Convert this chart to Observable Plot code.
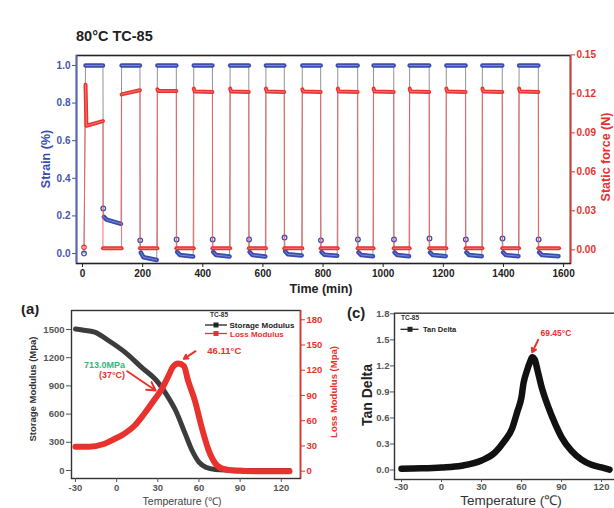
<!DOCTYPE html>
<html><head><meta charset="utf-8">
<script src="https://cdn.jsdelivr.net/npm/d3@7"></script>
<script src="https://cdn.jsdelivr.net/npm/@observablehq/plot@0.6"></script>
<style>
html,body{margin:0;padding:0;background:#fff;overflow:hidden}
#wrap{position:relative;width:614px;height:508px;overflow:hidden;font-family:"Liberation Sans",Arial,sans-serif}
#wrap > svg{position:absolute;margin:0;background:transparent;max-width:none}
</style></head><body><div id="wrap"></div>
<script>
// ---------- Top panel data (80°C TC-85) ----------
const timeTicks = [0, 200, 400, 600, 800, 1000, 1200, 1400, 1600];
const strainTicks = [0, 0.2, 0.4, 0.6, 0.8, 1.0];
const forceTicks = [0, 0.03, 0.06, 0.09, 0.12, 0.15];
const riseTimes = [10, 130, 249, 370, 491, 610, 731, 849, 968, 1088, 1210, 1330, 1452];
const fallTimes = [68, 191, 312, 432, 553, 671, 792, 915, 1035, 1153, 1274, 1396, 1516];
const endTime = 1585;
const startTime = 5, startStrain = 0.0, startForce = 0.002;
const strainHold = [1.0, 1.0, 1.0, 1.0, 1.0, 1.0, 1.0, 1.0, 1.0, 1.0, 1.0, 1.0, 1.0];
const strainSpike = [0.24, 0.07, 0.075, 0.075, 0.075, 0.085, 0.07, 0.075, 0.075, 0.08, 0.075, 0.08, 0.075];
const strainRecStart = [0.195, 0.005, 0.008, 0.008, 0.008, 0.012, 0.008, 0.006, 0.006, 0.006, 0.006, 0.006, 0.006];
const strainRecKnee = [0.18, -0.02, -0.008, -0.008, -0.008, -0.004, -0.006, -0.008, -0.008, -0.008, -0.008, -0.008, -0.008];
const strainRecEnd = [0.158, -0.034, -0.016, -0.016, -0.016, -0.01, -0.012, -0.014, -0.014, -0.014, -0.014, -0.014, -0.014];
const forceHoldStart = [0.127, 0.1195, 0.1235, 0.124, 0.124, 0.124, 0.1235, 0.124, 0.124, 0.124, 0.124, 0.124, 0.124];
const forceHoldKnee = [0.0955, 0.1198, 0.1222, 0.1218, 0.1218, 0.1218, 0.1218, 0.1218, 0.1218, 0.1218, 0.1218, 0.1218, 0.1218];
const forceHoldEnd = [0.099, 0.1228, 0.1222, 0.1215, 0.1215, 0.1215, 0.1215, 0.1215, 0.1215, 0.1215, 0.1215, 0.1215, 0.1215];
const forceLow = 0.0012;

// ---------- (a) storage / loss modulus ----------
const tempTicks = [-30, 0, 30, 60, 90, 120];
const storageTicks = [0, 300, 600, 900, 1200, 1500];
const lossTicks = [0, 30, 60, 90, 120, 150, 180];
const tempS = [-30, -25, -16, -6, 6, 18, 30, 36, 43, 50, 55, 60, 65, 72, 80, 90, 100, 110, 120, 126];
const storage = [1505, 1495, 1472, 1383, 1259, 1099, 940, 816, 638, 390, 213, 89, 35, 10, 4, 2, 1, 1, 0, 0];
const tempL = [-30, -20, -10, -2, 5, 13, 20, 28, 33, 38, 41, 45, 49, 52, 57, 62, 67, 72, 77, 87, 100, 126];
const loss = [29, 29, 32, 38, 44, 54, 68, 86, 98, 114, 124, 128, 125, 108, 84, 52, 25, 9, 3, 0.5, 0, 0];
const annTextAEnd = [
  {x: 6.1, y: 1117, label: "713.0MPa", color: "#34b37c"},
  {x: 6.1, y: 1011, label: "(37°C)", color: "#e8322e"}
];
const annTextAStart = [{x: 66.1, y: 1277, label: "46.11°C", color: "#e8322e"}];
const annArrowA = [
  {x1: 7.7, y1: 1056, x2: 28.4, y2: 851},
  {x1: 57.5, y1: 1269, x2: 49, y2: 1188}
];

// ---------- (c) tan delta ----------
const tanTicks = [0, 0.3, 0.6, 0.9, 1.2, 1.5, 1.8];
const tempT = [-30, -15, 0, 15, 30, 40, 47, 53, 57, 60, 61.5, 64, 66.5, 68, 70, 72, 75, 80, 85, 90, 97.5, 105, 112.5, 120, 126];
const tanDelta = [0.015, 0.02, 0.03, 0.05, 0.11, 0.2, 0.33, 0.48, 0.68, 0.84, 1.0, 1.14, 1.25, 1.3, 1.27, 1.15, 0.96, 0.73, 0.54, 0.38, 0.22, 0.12, 0.06, 0.03, 0.005];
const annTextC = [{x: 74.25, y: 1.576, label: "69.45°C"}];
const annArrowC = [{x1: 72.5, y1: 1.5, x2: 68, y2: 1.357}];

// ---------- colours / helpers ----------
const blue = "#3a4cb0", red = "#e8322e", dark = "#3c3c3c";
const font = "'Liberation Sans', Arial, sans-serif";
const wrap = document.getElementById("wrap");
function place(svg, left, top) {
  svg.style.position = "absolute";
  svg.style.left = left + "px";
  svg.style.top = top + "px";
  svg.style.background = "transparent";
  svg.style.maxWidth = "none";
  wrap.appendChild(svg);
}
const baseStyle = {fontFamily: font, fontSize: "10px", fontWeight: "bold", background: "transparent"};

// ---------- build top series ----------
const sPts = [{t: startTime, v: startStrain, seg: "pre", band: false}];
const fPts = [{t: startTime, v: startForce, seg: "pre", band: false}];
riseTimes.forEach((r, i) => {
  const f = fallTimes[i];
  const nxt = i < riseTimes.length - 1 ? riseTimes[i + 1] : endTime;
  sPts.push(
    {t: r, v: strainHold[i], seg: "sh" + i, band: true},
    {t: f, v: strainHold[i], seg: "sh" + i, band: true},
    {t: f + 1, v: strainSpike[i], seg: "ss" + i, band: false},
    {t: f + 3, v: strainRecStart[i], seg: "sr" + i, band: true},
    {t: f + 12, v: strainRecKnee[i], seg: "sr" + i, band: true},
    {t: nxt - 2, v: strainRecEnd[i], seg: "sr" + i, band: true}
  );
  fPts.push(
    {t: r, v: forceHoldStart[i], seg: "fh" + i, band: true},
    {t: r + 3, v: forceHoldKnee[i], seg: "fh" + i, band: true},
    {t: f, v: forceHoldEnd[i], seg: "fh" + i, band: true},
    {t: f, v: forceLow, seg: "fl" + i, band: true},
    {t: nxt, v: forceLow, seg: "fl" + i, band: true}
  );
});
const xTop = {domain: [-20, 1623]};
const topDims = {width: 614, height: 300, marginLeft: 76, marginRight: 44, marginTop: 55, marginBottom: 37};

const strainPlot = Plot.plot({
  ...topDims, style: baseStyle,
  x: xTop, y: {domain: [-0.053, 1.053]},
  marks: [
    Plot.frame({stroke: "#222", strokeWidth: 1.6}),
    Plot.ruleX([xTop.domain[0]], {stroke: "#5566c4", strokeWidth: 1.6}),
    Plot.axisX(timeTicks, {anchor: "bottom", tickSize: 4, tickPadding: 2, label: null, tickFormat: d => String(d), color: "#222"}),
    Plot.axisY(strainTicks, {anchor: "left", tickSize: 4, tickPadding: 2, label: null, tickFormat: d3.format(".1f"), color: "#4656aa"}),
    Plot.line(sPts, {x: "t", y: "v", stroke: "#777", strokeWidth: 0.8}),
    Plot.line(sPts.filter(d => d.band), {x: "t", y: "v", z: "seg", stroke: blue, strokeWidth: 4.5}),
    Plot.line(sPts.filter(d => d.band), {x: "t", y: "v", z: "seg", stroke: "#9aa6e0", strokeWidth: 1, strokeOpacity: 0.7}),
    Plot.dot(sPts.filter(d => !d.band), {x: "t", y: "v", r: 2.3, stroke: blue, strokeWidth: 1.3})
  ]
});
place(strainPlot, 0, 0);

const forcePlot = Plot.plot({
  ...topDims, style: baseStyle,
  x: {...xTop, axis: null}, y: {domain: [-0.0105, 0.1495]},
  marks: [
    Plot.ruleX([xTop.domain[1]], {stroke: red, strokeWidth: 1.6}),
    Plot.axisY(forceTicks, {anchor: "right", tickSize: 4, tickPadding: 2, label: null, tickFormat: d3.format(".2f"), color: red}),
    Plot.line(fPts, {x: "t", y: "v", stroke: "#f06060", strokeWidth: 0.9}),
    Plot.line(fPts.filter(d => d.band), {x: "t", y: "v", z: "seg", stroke: red, strokeWidth: 4}),
    Plot.line(fPts.filter(d => d.band), {x: "t", y: "v", z: "seg", stroke: "#f7a8a8", strokeWidth: 0.9, strokeOpacity: 0.7}),
    Plot.dot(fPts.filter(d => !d.band), {x: "t", y: "v", r: 2.2, stroke: red, strokeWidth: 1.2})
  ]
});
place(forcePlot, 0, 0);

// ---------- (a) ----------
const xA = {domain: [-32.9, 134]};
const aDims = {width: 340, height: 218, marginLeft: 71, marginRight: 40, marginTop: 20, marginBottom: 30};
const storagePlot = Plot.plot({
  ...aDims, style: {...baseStyle, fontSize: "9.5px"},
  x: xA, y: {domain: [-85, 1702]},
  marks: [
    Plot.frame({stroke: "#333", strokeWidth: 1.4}),
    Plot.axisX(tempTicks, {anchor: "bottom", tickSize: 4, tickPadding: 2, label: null, tickFormat: d => String(d), color: "#555"}),
    Plot.axisY(storageTicks, {anchor: "left", tickSize: 5, tickPadding: 2, label: null, tickFormat: d => String(d), color: "#555"}),
    Plot.line(tempS.map((t, i) => ({t, v: storage[i]})), {x: "t", y: "v", stroke: dark, strokeWidth: 5, curve: "monotone-x"})
  ]
});
place(storagePlot, 0, 290);

const lossPlot = Plot.plot({
  ...aDims, style: {...baseStyle, fontSize: "9.5px"},
  x: {...xA, axis: null}, y: {domain: [-8.7, 191]},
  marks: [
    Plot.ruleX([xA.domain[1]], {stroke: red, strokeWidth: 1.6}),
    Plot.axisY(lossTicks, {anchor: "right", tickSize: 4, tickPadding: 2, label: null, tickFormat: d => String(d), color: red}),
    Plot.line(tempL.map((t, i) => ({t, v: loss[i]})), {x: "t", y: "v", stroke: red, strokeWidth: 6, curve: "monotone-x"})
  ]
});
place(lossPlot, 0, 290);

const annAPlot = Plot.plot({
  ...aDims, style: {...baseStyle, fontSize: "9px"},
  x: {...xA, axis: null}, y: {domain: [-85, 1702], axis: null},
  marks: [
    Plot.arrow(annArrowA, {x1: "x1", y1: "y1", x2: "x2", y2: "y2", stroke: red, strokeWidth: 2, headLength: 7}),
    Plot.text(annTextAEnd, {x: "x", y: "y", text: "label", fill: "color", textAnchor: "end", fontSize: 9, fontWeight: "bold"}),
    Plot.text(annTextAStart, {x: "x", y: "y", text: "label", fill: "color", textAnchor: "start", fontSize: 9.5, fontWeight: "bold"})
  ]
});
place(annAPlot, 0, 290);

// ---------- (c) ----------
const xC = {domain: [-35.25, 132.75]};
const tanPlot = Plot.plot({
  width: 284, height: 218, marginLeft: 54, marginRight: 6, marginTop: 22.7, marginBottom: 29,
  style: {...baseStyle, fontSize: "9.5px"},
  x: xC, y: {domain: [-0.109, 1.807]},
  marks: [
    Plot.frame({stroke: "#333", strokeWidth: 1.4}),
    Plot.axisX(tempTicks, {anchor: "bottom", tickSize: 3, tickPadding: 1, label: null, tickFormat: d => String(d), color: "#555"}),
    Plot.axisY(tanTicks, {anchor: "left", tickSize: 4, tickPadding: 1, label: null, tickFormat: d3.format(".1f"), color: "#555"}),
    Plot.line(tempT.map((t, i) => ({t, v: tanDelta[i]})), {x: "t", y: "v", stroke: "#111", strokeWidth: 6.5, curve: "monotone-x"}),
    Plot.arrow(annArrowC, {x1: "x1", y1: "y1", x2: "x2", y2: "y2", stroke: red, strokeWidth: 2, headLength: 6}),
    Plot.text(annTextC, {x: "x", y: "y", text: "label", fill: red, textAnchor: "start", fontSize: 8.5, fontWeight: "bold"})
  ]
});
place(tanPlot, 340, 290);

// ---------- overlay texts & legends ----------
const ns = "http://www.w3.org/2000/svg";
const ov = document.createElementNS(ns, "svg");
ov.setAttribute("width", 614); ov.setAttribute("height", 508);
ov.setAttribute("font-family", font);
ov.innerHTML = `
<text x="76" y="40.5" font-size="14.5" font-weight="bold" fill="#222">80°C TC-85</text>
<text transform="translate(50,159) rotate(-90)" text-anchor="middle" font-size="12.5" font-weight="bold" fill="${blue}">Strain (%)</text>
<text transform="translate(610,157) rotate(-90)" text-anchor="middle" font-size="12.5" font-weight="bold" fill="${red}">Static force (N)</text>
<text x="321" y="293" text-anchor="middle" font-size="12.5" font-weight="bold" fill="#222">Time (min)</text>

<text x="21" y="314" font-size="15" font-weight="bold" fill="#222">(a)</text>
<rect x="14" y="290" width="36" height="15" fill="#fff"/>
<text transform="translate(36,389) rotate(-90)" text-anchor="middle" font-size="9.5" font-weight="bold" fill="#333">Storage Modulus (Mpa)</text>
<text transform="translate(337,392) rotate(-90)" text-anchor="middle" font-size="9.5" font-weight="bold" fill="${red}">Loss Modulus (Mpa)</text>
<text x="182" y="505" text-anchor="middle" font-size="10.5" fill="#444">Temperature (℃)</text>
<text x="210" y="317" font-size="6.5" font-weight="bold" fill="#333">TC-85</text>
<line x1="205" y1="325" x2="227" y2="325" stroke="#222" stroke-width="1.3"/>
<rect x="213.5" y="322.5" width="5" height="5" fill="#222"/>
<text x="229.5" y="328" font-size="8" font-weight="bold" fill="#222">Storage Modulus</text>
<line x1="205" y1="333.5" x2="227" y2="333.5" stroke="${red}" stroke-width="1.3"/>
<rect x="213.5" y="331" width="5" height="5" fill="${red}"/>
<text x="230" y="336.5" font-size="8" font-weight="bold" fill="${red}">Loss Modulus</text>

<text x="347" y="318" font-size="15" font-weight="bold" fill="#222">(c)</text>
<text transform="translate(372,395) rotate(-90)" text-anchor="middle" font-size="14" font-weight="bold" fill="#222">Tan Delta</text>
<text x="511" y="505" text-anchor="middle" font-size="13.5" fill="#333">Temperature (℃)</text>
<text x="401" y="320" font-size="6.5" font-weight="bold" fill="#333">TC-85</text>
<line x1="400.5" y1="329.3" x2="418.5" y2="329.3" stroke="#222" stroke-width="1.3"/>
<rect x="407.5" y="326.8" width="5" height="5" fill="#222"/>
<text x="423" y="332" font-size="7.5" font-weight="bold" fill="#222">Tan Delta</text>
`;
ov.style.position = "absolute"; ov.style.left = "0px"; ov.style.top = "0px";
wrap.appendChild(ov);
</script>
</body></html>
